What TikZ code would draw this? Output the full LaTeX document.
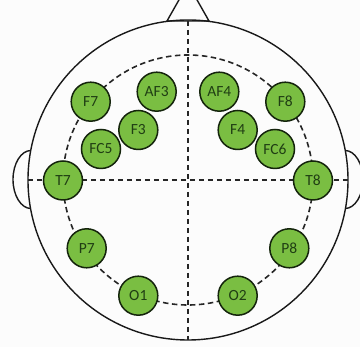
\documentclass[tikz,border=0pt]{standalone}
\usepackage{fontspec}
\setmainfont{Carlito}
\definecolor{elecfill}{RGB}{122,190,66}
\definecolor{elecline}{RGB}{20,36,12}
\definecolor{electext}{RGB}{32,62,20}
\definecolor{bgcol}{RGB}{252,252,252}
\tikzset{
  electrode/.style={circle, minimum size=39pt, inner sep=0pt, fill=elecfill, draw=elecline, line width=1.5pt, text=electext, font=\fontsize{15.5}{17}\selectfont},
  outline/.style={line width=1.4pt, draw=black!90},
  guide/.style={line width=1.6pt, draw=black!85, dash pattern=on 5.5pt off 3.5pt}
}
\begin{document}
\begin{tikzpicture}[x=1pt,y=-1pt]
\useasboundingbox (0,0) rectangle (360,347);
\clip (0,0) rectangle (360,347);
\fill[bgcol] (0,0) rectangle (360,347);
\coordinate (c) at (188,180);
% ears
\draw[outline] (31,150.5) arc[start angle=90, end angle=270, x radius=18, y radius=-29];
\draw[outline] (345,150.5) arc[start angle=90, end angle=-90, x radius=18, y radius=-29];
% head
\draw[outline, fill=bgcol] (c) circle[radius=160];
% nose
\draw[outline, line join=miter] (167,21) -- (188,-16) -- (209,21) -- cycle;
% guide lines
\coordinate (ntop) at (188,21);
\coordinate (nbot) at (188,340);
\coordinate (eleft) at (28,180);
\coordinate (eright) at (348,180);
\draw[guide] (ntop) -- (nbot);
\draw[guide] (eleft) -- (eright);
\draw[guide] (c) circle[radius=125];
% electrodes
\node[electrode] (F7) at (90.7,101.7) {F7};
\node[electrode] (AF3) at (156.7,91.7) {AF3};
\node[electrode] (AF4) at (219.3,91.7) {AF4};
\node[electrode] (F8) at (285.3,101.7) {F8};
\node[electrode] (F3) at (138.3,130) {F3};
\node[electrode] (F4) at (237.7,130) {F4};
\node[electrode] (FC5) at (101,149) {FC5};
\node[electrode] (FC6) at (275,149) {FC6};
\node[electrode] (T7) at (63,180.5) {T7};
\node[electrode] (T8) at (313,180.5) {T8};
\node[electrode] (P7) at (86.7,248.3) {P7};
\node[electrode] (P8) at (289.3,248.3) {P8};
\node[electrode] (O1) at (138.3,295.7) {O1};
\node[electrode] (O2) at (237.7,295.7) {O2};
\end{tikzpicture}
\end{document}
